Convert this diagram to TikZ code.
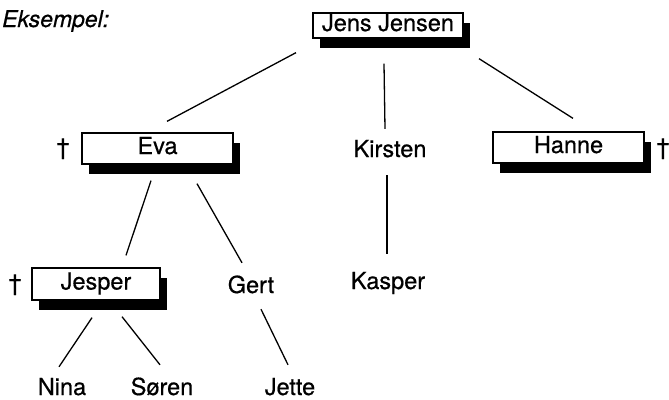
\documentclass[tikz,border=0pt]{standalone}
\usepackage{fontspec}
\setmainfont{TeX Gyre Heros}[FakeBold=0.6]
\usetikzlibrary{shadows,calc}
\begin{document}
\begin{tikzpicture}[x=1pt,y=-1pt,
  every node/.style={font=\fontsize{23.5}{27}\selectfont},
  person/.style={inner sep=0pt,text height=15pt,text depth=3pt},
  namebox/.style={draw,line width=1.3pt,fill=white,inner sep=0pt,
    text height=15pt,text depth=4pt,
    drop shadow={shadow xshift=7pt,shadow yshift=-10pt,opacity=1,fill=black}},
  conn/.style={line width=1.3pt}]
\useasboundingbox (0,0) rectangle (669,399);
% labels
\node[person,anchor=base west,font=\fontsize{23}{27}\selectfont\itshape] (eksempel) at (2,27) {Eksempel:};
% boxed persons
\node[namebox,minimum width=150pt,minimum height=25pt] (jens) at (388,25.5) {Jens Jensen};
\node[namebox,minimum width=151pt,minimum height=31pt] (eva) at (157.5,148.5) {Eva};
\node[namebox,minimum width=151pt,minimum height=31pt] (hanne) at (568.5,147.5) {Hanne};
\node[namebox,minimum width=128pt,minimum height=32pt] (jesper) at (96,284) {Jesper};
% plain persons
\node[person,anchor=base] (kirsten) at (390,157) {Kirsten};
\node[person,anchor=base] (gert) at (251,293) {Gert};
\node[person,anchor=base] (kasper) at (388,289) {Kasper};
\node[person,anchor=base] (nina) at (62,395) {Nina};
\node[person,anchor=base] (soren) at (162,395) {Søren};
\node[person,anchor=base] (jette) at (290,395) {Jette};
% daggers
\node[person,anchor=base] (deva) at (63,155) {†};
\node[person,anchor=base] (dhanne) at (663,155) {†};
\node[person,anchor=base] (djesper) at (15,291) {†};
% connectors
\draw[conn] ($(jens.south)+(-92,14)$) -- ($(eva.north)+(9.5,-11)$);
\draw[conn] ($(jens.south)+(-4,25)$) -- ($(kirsten.north)+(-5,-13)$);
\draw[conn] ($(jens.south)+(91,20)$) -- ($(hanne.north)+(4.5,-13)$);
\draw[conn] ($(eva.south)+(-6.5,16)$) -- ($(jesper.north)+(30,-12)$);
\draw[conn] ($(eva.south)+(39.5,19)$) -- ($(gert.north)+(-9,-15)$);
\draw[conn] ($(kirsten.south)+(-3,15)$) -- ($(kasper.north)+(-1,-20)$);
\draw[conn] ($(jesper.south)+(-4,17)$) -- ($(nina.north)+(-3,-13)$);
\draw[conn] ($(jesper.south)+(26,16)$) -- ($(soren.north)+(-2,-15)$);
\draw[conn] ($(gert.south)+(10,13)$) -- ($(jette.north)+(-2,-15)$);
\end{tikzpicture}
\end{document}
